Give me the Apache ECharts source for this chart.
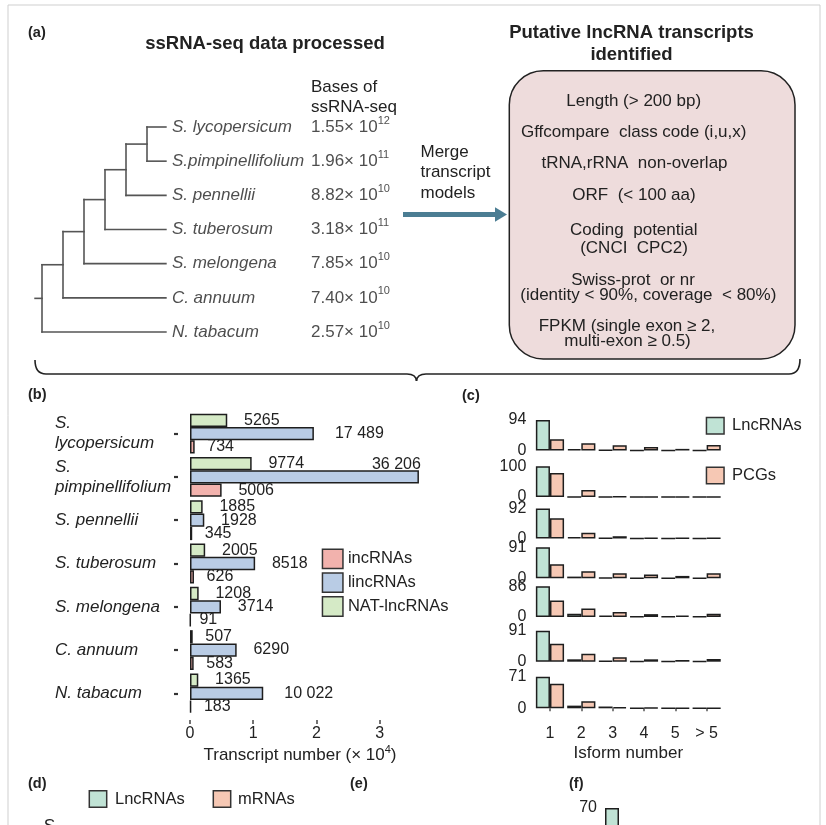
<!DOCTYPE html>
<html><head><meta charset="utf-8">
<script src="https://cdn.jsdelivr.net/npm/echarts@6/dist/echarts.min.js"></script>
<style>html,body{margin:0;padding:0;background:#fff}#c{width:826px;height:825px}</style>
</head><body><div id="c"></div>
<script>
// ---------------- DATA ----------------
// (a) phylogeny + sequencing bases
const treeSpecies = ['S. lycopersicum', 'S.pimpinellifolium', 'S. pennellii', 'S. tuberosum', 'S. melongena', 'C. annuum', 'N. tabacum'];
const treeTopology = [[[[[[0, 1], 2], 3], 4], 5], 6]; // nested leaf indices
const basesMantissa = ['1.55', '1.96', '8.82', '3.18', '7.85', '7.40', '2.57'];
const basesExponent = ['12', '11', '10', '11', '10', '10', '10'];
const filterSteps = ['Length (> 200 bp)', 'Gffcompare  class code (i,u,x)', 'tRNA,rRNA  non-overlap', 'ORF  (< 100 aa)',
  'Coding  potential', '(CNCI  CPC2)', 'Swiss-prot  or nr', '(identity < 90%, coverage  < 80%)',
  'FPKM (single exon \u2265 2,', 'multi-exon \u2265 0.5)'];

// (b) transcript numbers (x 10^4, bar lengths) and printed labels
const bSpecies = ['S.\nlycopersicum', 'S.\npimpinellifolium', 'S. pennellii', 'S. tuberosum', 'S. melongena', 'C. annuum', 'N. tabacum'];
const natValues = [0.589, 0.975, 0.200, 0.240, 0.137, 0.043, 0.131];
const lincValues = [1.959, 3.620, 0.226, 1.030, 0.490, 0.738, 1.158];
const incValues = [0.074, 0.500, 0.035, 0.063, 0.009, 0.058, 0.018];
const natLabels = ['5265', '9774', '1885', '2005', '1208', '507', '1365'];
const lincLabels = ['17 489', '36 206', '1928', '8518', '3714', '6290', '10 022'];
const incLabels = ['734', '5006', '345', '626', '91', '583', '183'];
const bTicks = [0, 1, 2, 3];

// (c) isoform distributions (%)
const isoformCats = ['1', '2', '3', '4', '5', '> 5'];
const cMax = [94, 100, 92, 91, 86, 91, 71];
const cLnc = [
  [94, 4, 1, 0.5, 0.5, 0.5],
  [100, 0.5, 0.3, 0.2, 0.2, 0.2],
  [92, 4, 1, 0.5, 0.3, 0.3],
  [91, 5, 2, 1, 1, 1],
  [86, 9, 4, 1, 1, 1],
  [91, 7, 2, 0.5, 0.5, 1],
  [71, 6, 4, 0.5, 0.3, 0.3]
];
const cPcg = [
  [35, 22, 16, 11, 5, 17],
  [78, 23, 2, 0.5, 0.3, 0.3],
  [62, 18, 7, 2, 1, 1],
  [41, 21, 15, 11, 7, 15],
  [46, 24, 14, 8, 4, 9],
  [53, 23, 13, 7, 5, 8],
  [55, 16, 3, 1, 0.5, 0.3]
];
// (f) visible bar
const fCats = ['1'];
const fLnc = [70];

// ---------------- BUILD ----------------
const FONT = '"Liberation Sans", Arial, Helvetica, sans-serif';
const TXT = '#222';
const C_NAT = '#d5eac6', C_LINC = '#b9cce5', C_INC = '#f2b2ad';
const C_LNC = '#c0e3d5', C_PCG = '#f6c8b4';
const BORDER = '#1e1e1e';

// tree layout -> segments [x1, y1, x2, y2] in data units
const leafX = 5.9;
const treeSegs = [];
function layoutTree(node, depth) {
  if (typeof node === 'number') return {x: leafX, y: node};
  const kids = node.map(k => layoutTree(k, depth + 1));
  const ys = kids.map(k => k.y);
  treeSegs.push([depth, Math.min(...ys), depth, Math.max(...ys)]);
  kids.forEach(k => treeSegs.push([depth, k.y, k.x, k.y]));
  return {x: depth, y: ys.reduce((a, b) => a + b, 0) / ys.length};
}
const treeRoot = layoutTree(treeTopology, 0);
treeSegs.push([-0.33, treeRoot.y, 0, treeRoot.y]);

const grids = [], xAxes = [], yAxes = [], series = [];
// grid 0 : tree
grids.push({left: 31.5, top: 127, width: 304.5, height: 205});
xAxes.push({gridIndex: 0, type: 'value', min: -0.5, max: 14, show: false});
yAxes.push({gridIndex: 0, type: 'value', min: 0, max: 6, inverse: true, show: false});
series.push({type: 'custom', xAxisIndex: 0, yAxisIndex: 0, silent: true, data: treeSegs,
  renderItem: (params, api) => {
    const p1 = api.coord([api.value(0), api.value(1)]);
    const p2 = api.coord([api.value(2), api.value(3)]);
    return {type: 'line', shape: {x1: p1[0], y1: p1[1], x2: p2[0], y2: p2[1]},
      style: {stroke: '#555', lineWidth: 1.6, lineCap: 'square'}};
  }});
series.push({type: 'scatter', xAxisIndex: 0, yAxisIndex: 0, symbolSize: 0, silent: true,
  data: treeSpecies.map((s, i) => [leafX, i]),
  label: {show: true, position: 'right', distance: 6, fontStyle: 'italic', fontSize: 17, color: TXT, fontFamily: FONT,
    formatter: p => treeSpecies[p.dataIndex]}});
series.push({type: 'scatter', xAxisIndex: 0, yAxisIndex: 0, symbolSize: 0, silent: true,
  data: basesMantissa.map((s, i) => [12.81, i]),
  label: {show: true, position: 'right', distance: 0, fontFamily: FONT,
    formatter: p => '{m|' + basesMantissa[p.dataIndex] + '\u00d7 10}{s|' + basesExponent[p.dataIndex] + '}',
    rich: {m: {fontSize: 17, color: TXT, lineHeight: 24, fontFamily: FONT},
           s: {fontSize: 11, color: TXT, verticalAlign: 'top', lineHeight: 14, fontFamily: FONT}}}});

// grid 1 : panel b
grids.push({left: 190, top: 412, width: 234, height: 303});
xAxes.push({gridIndex: 1, type: 'value', min: 0, max: 3.7, offset: 5,
  axisLine: {show: false}, splitLine: {show: false},
  axisTick: {show: true, length: 4, customValues: bTicks, lineStyle: {color: '#444', width: 1.5}},
  axisLabel: {customValues: bTicks, fontSize: 16, color: TXT, margin: 6, fontFamily: FONT},
  name: 'Transcript number (\u00d7 10{s|4})', nameLocation: 'middle', nameGap: 24,
  nameTextStyle: {fontSize: 17, color: TXT, fontFamily: FONT, lineHeight: 22, padding: [0, 14, 0, 0],
    rich: {s: {fontSize: 11, color: TXT, verticalAlign: 'top', lineHeight: 12, fontFamily: FONT}}}});
yAxes.push({gridIndex: 1, type: 'category', position: 'left', inverse: true, data: bSpecies,
  axisLine: {show: false}, axisTick: {show: false},
  axisLabel: {align: 'left', margin: 135, fontSize: 17, fontStyle: 'italic', color: TXT, lineHeight: 20, fontFamily: FONT}});
yAxes.push({gridIndex: 1, type: 'category', position: 'left', inverse: true, data: bSpecies, offset: 12,
  axisLine: {show: false}, axisLabel: {show: false},
  axisTick: {show: true, alignWithLabel: true, length: 4, lineStyle: {color: '#333', width: 2.2}}});
const labelDist = s => Math.min(s.length * 4.2, 21);
function bSeries(name, values, labels, color, shift) {
  return {type: 'bar', name, xAxisIndex: 1, yAxisIndex: 1, barGap: '0%', barCategoryGap: '8%',
    itemStyle: {color, borderColor: BORDER, borderWidth: 1.5},
    label: {show: true, position: 'right', fontSize: 16, color: TXT, fontFamily: FONT,
      formatter: p => labels[p.dataIndex]},
    data: values.map((v, i) => ({value: v, label: Object.assign({distance: labelDist(labels[i])}, shift && shift[i] ? {offset: shift[i]} : {})}))};
}
series.push(bSeries('NAT-lncRNAs', natValues, natLabels, C_NAT));
series.push(bSeries('lincRNAs', lincValues, lincLabels, C_LINC, {1: [-68, -12]}));
series.push(bSeries('incRNAs', incValues, incLabels, C_INC));

// grids 2..8 : panel c
const cRowTop = [420, 466.3, 508.5, 547.3, 586.3, 630.7, 676.7];
const cRowBottom = [450.5, 497, 538.5, 578.3, 617, 661.7, 708.3];
cMax.forEach((mx, r) => {
  const gi = 2 + r;
  const last = r === cMax.length - 1;
  grids.push({left: 534.3, top: cRowTop[r], width: 188, height: cRowBottom[r] - cRowTop[r]});
  xAxes.push(Object.assign({gridIndex: gi, type: 'category', data: isoformCats}, last ? {
    offset: 2, axisLine: {show: false},
    axisTick: {show: true, alignWithLabel: true, length: 3, lineStyle: {color: '#555', width: 1.5}},
    axisLabel: {fontSize: 16, color: TXT, margin: 15, fontFamily: FONT},
    name: 'Isform number', nameLocation: 'middle', nameGap: 35,
    nameTextStyle: {fontSize: 17, color: TXT, fontFamily: FONT}
  } : {show: false}));
  yAxes.push({gridIndex: gi, type: 'value', min: 0, max: mx, interval: mx,
    axisLine: {show: false}, axisTick: {show: false}, splitLine: {show: false},
    axisLabel: {fontSize: 16, color: TXT, margin: 8, fontFamily: FONT}});
  const yi = yAxes.length - 1, xi = xAxes.length - 1;
  series.push({type: 'bar', name: 'LncRNAs', xAxisIndex: xi, yAxisIndex: yi, barGap: '0%', barCategoryGap: '10%',
    itemStyle: {color: C_LNC, borderColor: BORDER, borderWidth: 1.5}, data: cLnc[r]});
  series.push({type: 'bar', name: 'PCGs', xAxisIndex: xi, yAxisIndex: yi, barGap: '0%', barCategoryGap: '10%',
    itemStyle: {color: C_PCG, borderColor: BORDER, borderWidth: 1.5}, data: cPcg[r]});
});

// grid 9 : panel f (only top visible)
grids.push({left: 603, top: 808, width: 18, height: 200});
xAxes.push({gridIndex: 9, type: 'category', data: fCats, show: false});
yAxes.push({gridIndex: 9, type: 'value', min: 0, max: 70, interval: 70,
  axisLine: {show: false}, axisTick: {show: false}, splitLine: {show: false},
  axisLabel: {fontSize: 16, color: TXT, margin: 6, fontFamily: FONT}});
series.push({type: 'bar', name: 'LncRNAs', xAxisIndex: xAxes.length - 1, yAxisIndex: yAxes.length - 1, barWidth: 14,
  itemStyle: {color: C_LNC, borderColor: BORDER, borderWidth: 1.5}, data: fLnc});

// graphics (annotation text, box, arrow, brace)
const g = [];
function txt(text, x, y, font, align) {
  g.push({type: 'text', x, y, silent: true, style: {text, font, fill: TXT, align: align || 'left', verticalAlign: 'middle'}});
}
const F17 = '17px ' + FONT, B185 = 'bold 18.5px ' + FONT, B14 = 'bold 14.5px ' + FONT;
g.push({type: 'rect', shape: {x: 8, y: 5, width: 812, height: 840}, style: {fill: 'none', stroke: '#cfcfcf', lineWidth: 1}, silent: true, z: -10});
txt('(a)', 28, 33, B14); txt('(b)', 28, 395, B14); txt('(c)', 462, 396, B14);
txt('(d)', 28, 784, B14); txt('(e)', 350, 784, B14); txt('(f)', 569, 784, B14);
txt('ssRNA-seq data processed', 265, 43.5, B185, 'center');
txt('Putative lncRNA transcripts', 631.5, 33, B185, 'center');
txt('identified', 631.5, 55, B185, 'center');
txt('Bases of', 311, 87.5, F17); txt('ssRNA-seq', 311, 107.5, F17);
txt('Merge', 420.5, 152, F17); txt('transcript', 420.5, 172.5, F17); txt('models', 420.5, 193, F17);
g.push({type: 'rect', shape: {x: 509.3, y: 70.7, width: 285.7, height: 288.3, r: 34},
  style: {fill: '#eedcdc', stroke: '#222', lineWidth: 1.5}, silent: true});
const stepPos = [[633.7, 101], [633.7, 132.7], [634.5, 163.3], [634, 195], [633.7, 230], [634, 248.3],
  [633, 280], [648.3, 295], [627, 326.7], [627.5, 341.7]];
filterSteps.forEach((s, i) => txt(s, stepPos[i][0], stepPos[i][1], F17, 'center'));
g.push({type: 'line', shape: {x1: 403, y1: 214.5, x2: 497, y2: 214.5}, style: {stroke: '#4b7d93', lineWidth: 5}, silent: true});
g.push({type: 'polygon', shape: {points: [[495, 207.3], [507, 214.5], [495, 221.7]]}, style: {fill: '#4b7d93'}, silent: true});
// curly brace
const braceStyle = {fill: 'none', stroke: '#222', lineWidth: 1.6};
[[35, 360, 46, 374, 35, 374], [407, 374, 416.5, 381, 416, 374], [416.5, 381, 426, 374, 417, 374], [789, 374, 800, 359, 800, 374]]
  .forEach(b => g.push({type: 'bezierCurve', shape: {x1: b[0], y1: b[1], x2: b[2], y2: b[3], cpx1: b[4], cpy1: b[5]}, style: braceStyle, silent: true}));
[[46, 407], [426, 789]].forEach(l => g.push({type: 'line', shape: {x1: l[0], y1: 374, x2: l[1], y2: 374}, style: braceStyle, silent: true}));
// panel d legend + first label
g.push({type: 'rect', shape: {x: 89.3, y: 790.7, width: 17.4, height: 16.6}, style: {fill: C_LNC, stroke: '#333', lineWidth: 1.5}, silent: true});
txt('LncRNAs', 115, 799.5, '16.5px ' + FONT);
g.push({type: 'rect', shape: {x: 213.3, y: 790.7, width: 17.4, height: 16.6}, style: {fill: C_PCG, stroke: '#333', lineWidth: 1.5}, silent: true});
txt('mRNAs', 238, 799.5, '16.5px ' + FONT);
txt('S.', 43, 826, 'italic 17px ' + FONT);

const option = {
  animation: false,
  backgroundColor: '#fff',
  textStyle: {fontFamily: FONT},
  grid: grids, xAxis: xAxes, yAxis: yAxes, series,
  legend: [
    {data: ['incRNAs', 'lincRNAs', 'NAT-lncRNAs'], orient: 'vertical', left: 321.7, top: 548.5, padding: 0,
      itemWidth: 20.5, itemHeight: 19.3, itemGap: 3, icon: 'rect', selectedMode: false,
      itemStyle: {borderColor: '#333', borderWidth: 1.5},
      textStyle: {fontSize: 16.5, color: TXT, fontFamily: FONT}},
    {data: ['LncRNAs', 'PCGs'], orient: 'vertical', left: 705.7, top: 416.7, padding: 0,
      itemWidth: 17.6, itemHeight: 16.6, itemGap: 31.7, icon: 'rect', selectedMode: false,
      itemStyle: {borderColor: '#333', borderWidth: 1.5},
      textStyle: {fontSize: 16.5, color: TXT, fontFamily: FONT, padding: [0, 0, 0, 3]}}
  ],
  graphic: g
};
const chart = echarts.init(document.getElementById('c'), null, {renderer: 'canvas'});
chart.setOption(option);
</script></body></html>
